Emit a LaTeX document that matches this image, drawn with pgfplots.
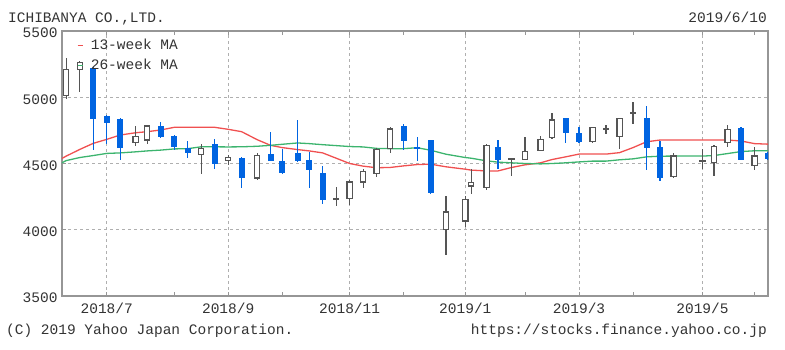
\documentclass[border=0pt]{standalone}
\usepackage{fontspec}
\setmainfont{Liberation Mono}
\usepackage{pgfplots}
\pgfplotsset{compat=1.18}
\usepackage{pgfplotstable}

\definecolor{cblue}{RGB}{0,100,225}
\definecolor{cgray}{RGB}{85,85,85}
\definecolor{mared}{RGB}{240,80,80}
\definecolor{magreen}{RGB}{60,180,110}
\definecolor{framegray}{RGB}{150,150,150}
\definecolor{gridgray}{RGB}{175,175,175}
\definecolor{txt}{RGB}{51,51,51}
\newcommand{\f}{\fontsize{14.5}{16}\selectfont}

% days counted from 2018-07-02 ; o h l c
\pgfplotstableread{
d o h l c
-7 5220 5225 4600 4835
0 4860 4865 4650 4805
7 4835 4840 4525 4620
28 4783 4816 4690 4697
35 4707 4715 4605 4625
42 4614 4672 4543 4576
56 4646 4682 4462 4495
70 4545 4548 4316 4394
85 4568 4740 4518 4520
91 4520 4606 4424 4430
99 4578 4832 4515 4518
105 4525 4588 4316 4450
112 4432 4480 4197 4222
154 4783 4798 4601 4669
161 4625 4697 4518 4610
168 4677 4680 4268 4278
203 4626 4677 4462 4530
238 4841 4843 4652 4732
245 4727 4773 4652 4664
280 4841 4934 4450 4619
287 4626 4672 4369 4391
329 4765 4773 4528 4530
343 4580 4585 4530 4535
}\down

\pgfplotstableread{
d o h l c
-21 5015 5295 4990 5210
-14 5210 5270 5040 5260
15 4657 4783 4630 4702
21 4677 4790 4644 4783
49 4568 4646 4417 4614
63 4520 4563 4487 4545
78 4391 4576 4379 4563
119 4228 4323 4177 4232
126 4235 4379 4184 4361
133 4361 4462 4316 4442
140 4424 4619 4399 4606
147 4614 4773 4576 4760
176 4000 4255 3813 4134
186 4066 4253 4020 4227
189 4330 4455 4268 4354
197 4316 4644 4303 4634
210 4536 4545 4405 4538
217 4530 4702 4528 4588
225 4601 4707 4598 4682
231 4697 4879 4682 4828
252 4664 4775 4652 4770
259 4756 4790 4720 4760
266 4702 4846 4606 4841
273 4877 4967 4798 4881
294 4404 4581 4391 4556
309 4515 4606 4455 4520
315 4505 4639 4404 4626
322 4657 4788 4621 4758
336 4487 4626 4450 4556
}\up

\pgfplotstableread{
d ma13 ma26
-28 4500 4470
-21 4556 4522
-14 4606 4545
-7 4652 4560
0 4682 4576
7 4715 4580
15 4732 4588
21 4740 4595
28 4753 4601
35 4773 4610
42 4773 4612
49 4773 4626
56 4773 4626
63 4758 4625
70 4740 4626
78 4680 4630
85 4637 4637
91 4620 4645
99 4605 4655
105 4595 4650
112 4580 4642
119 4540 4635
126 4500 4628
133 4480 4625
140 4468 4614
147 4470 4612
154 4482 4612
161 4492 4619
168 4495 4600
176 4475 4570
186 4457 4545
189 4450 4540
197 4444 4520
203 4444 4510
210 4470 4505
217 4490 4500
225 4505 4497
231 4530 4500
238 4550 4505
245 4571 4512
252 4571 4518
259 4571 4518
266 4582 4528
273 4620 4535
280 4664 4550
287 4677 4555
294 4677 4556
309 4677 4556
315 4677 4560
322 4677 4575
329 4670 4590
336 4650 4596
343 4646 4597
}\ma

\begin{document}
\begin{tikzpicture}
\path[use as bounding box] (0,0) rectangle (785pt,350pt);
\begin{axis}[
  at={(62pt,54pt)}, anchor=south west,
  scale only axis, width=706pt, height=265pt,
  xmin=-23.2, xmax=343, ymin=3500, ymax=5500,
  axis line style={draw=framegray, line width=1.3pt},
  ytick={3500,4000,4500,5000,5500},
  yticklabels={3500,4000,4500,5000,5500},
  xtick={0,63,126,186,245,309},
  xticklabels={2018/7,2018/9,2018/11,2019/1,2019/3,2019/5},
  extra x ticks={35,91,154,217,273,336},
  extra x tick labels={},
  extra x tick style={grid=none},
  xmajorgrids, ymajorgrids,
  grid style={draw=gridgray, line width=1pt, dash pattern=on 3pt off 3pt},
  tick align=inside, xtick pos=both, ytick pos=left,
  major tick length=4pt,
  tick style={draw=framegray, line width=1pt},
  every tick label/.append style={font=\f, text=txt},
  xticklabel style={yshift=-3pt},
  yticklabel style={xshift=-1pt, yshift=-2pt},
  clip=true,
  legend style={draw=none, fill=none, at={(0.021,0.975)}, anchor=north west,
    font=\f, text=txt, row sep=4pt, inner sep=0pt,
    nodes={inner sep=1.5pt, text height=10pt, text depth=3pt},
    /tikz/every odd column/.append style={column sep=6pt}},
  legend cell align=left,
  legend image code/.code={\draw[#1, line width=1.3pt] (0pt,0pt) -- (5pt,0pt);},
]
\addplot[mared, line width=1.3pt, mark=none] table[x=d, y=ma13] {\ma};
\addlegendentry{13-week MA}
\addplot[magreen, line width=1.3pt, mark=none] table[x=d, y=ma26] {\ma};
\addlegendentry{26-week MA}

% wicks
\addplot[draw=none, mark=none, forget plot, error bars/.cd, y dir=both, y explicit, error mark=none,
  error bar style={draw=cgray, solid, line width=1.2pt}]
  table[x=d, y expr={(\thisrow{h}+\thisrow{l})/2}, y error expr={(\thisrow{h}-\thisrow{l})/2}] {\up};
\addplot[draw=none, mark=none, forget plot, error bars/.cd, y dir=both, y explicit, error mark=none,
  error bar style={draw=cblue, solid, line width=1.2pt}]
  table[x=d, y expr={(\thisrow{h}+\thisrow{l})/2}, y error expr={(\thisrow{h}-\thisrow{l})/2}] {\down};

% down bodies
\addplot[draw=none, mark=none, forget plot, error bars/.cd, y dir=both, y explicit, error mark=none,
  error bar style={draw=cblue, solid, line width=6pt}]
  table[x=d, y expr={(\thisrow{o}+\thisrow{c})/2}, y error expr={abs(\thisrow{o}-\thisrow{c})/2}] {\down};

% up bodies: outline then white inside
\addplot[draw=none, mark=none, forget plot, error bars/.cd, y dir=both, y explicit, error mark=none,
  error bar style={draw=cgray, solid, line width=6.4pt}]
  table[x=d, y expr={(\thisrow{o}+\thisrow{c})/2}, y error expr={abs(\thisrow{o}-\thisrow{c})/2+4.5}] {\up};
\addplot[draw=none, mark=none, forget plot, error bars/.cd, y dir=both, y explicit, error mark=none,
  error bar style={draw=white, solid, line width=4pt}]
  table[x=d, y expr={(\thisrow{o}+\thisrow{c})/2}, y error expr={max(abs(\thisrow{o}-\thisrow{c})/2-4.5,0)}] {\up};
\end{axis}
\node[anchor=base west, font=\f, text=txt, inner sep=0pt] at (8pt,327pt) {ICHIBANYA CO.,LTD.};
\node[anchor=base east, font=\f, text=txt, inner sep=0pt] at (767pt,327pt) {2019/6/10};
\node[anchor=base west, font=\f, text=txt, inner sep=0pt] at (6pt,15pt) {(C) 2019 Yahoo Japan Corporation.};
\node[anchor=base east, font=\f, text=txt, inner sep=0pt] at (767pt,15pt) {https://stocks.finance.yahoo.co.jp};
\end{tikzpicture}
\end{document}
